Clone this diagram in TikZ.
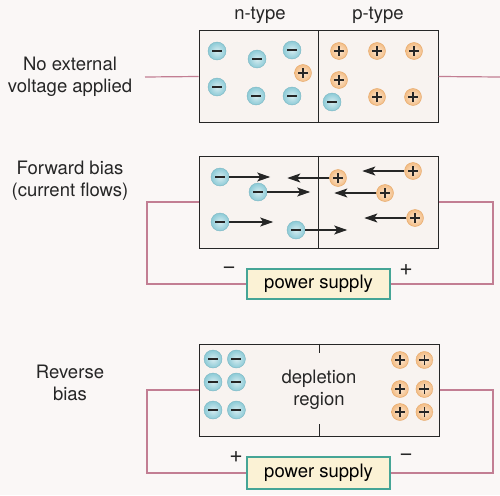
\documentclass[tikz,border=0pt]{standalone}
\usepackage{fontspec}
\setmainfont{TeX Gyre Heros}
\usepackage{xcolor}
\definecolor{cBack}{HTML}{FAF7F6}
\definecolor{cPanel}{HTML}{F8F3F0}
\definecolor{cLine}{HTML}{262626}
\definecolor{cWire}{HTML}{C27E93}
\definecolor{cElec}{HTML}{8CCAD6}
\definecolor{cElecEdge}{HTML}{7AB6C3}
\definecolor{cHole}{HTML}{F3BC84}
\definecolor{cHoleEdge}{HTML}{E6A766}
\definecolor{cSupply}{HTML}{FBF2D5}
\definecolor{cSupplyEdge}{HTML}{45A596}
\usepackage{tikz}
\usetikzlibrary{positioning,arrows.meta,backgrounds}
\tikzset{
  junction/.style={draw=cLine,line width=1pt,fill=cPanel,inner sep=0pt,
    minimum width=239pt,minimum height=91pt},
  supply/.style={draw=cSupplyEdge,line width=1.2pt,fill=cSupply,inner sep=0pt,
    minimum width=143pt,minimum height=30pt,font=\fontsize{18.5}{22}\selectfont},
  wire/.style={draw=cWire,line width=1.2pt},
  split/.style={draw=cLine,line width=0.8pt},
  side-label/.style={align=center,font=\fontsize{18.5}{22}\selectfont,text=cLine},
  pole/.style={font=\fontsize{23}{23}\selectfont,text=cLine,inner sep=0pt},
  sign/.style={line width=2pt,draw=cLine},
  elec/.style={circle,minimum size=18pt,inner sep=0pt,draw=cElecEdge,line width=0.4pt,
    inner color=cElec!35!white,outer color=cElec,
    path picture={\draw[sign] ([xshift=-5pt]path picture bounding box.center)
      -- ([xshift=5pt]path picture bounding box.center);}},
  hole/.style={circle,minimum size=17pt,inner sep=0pt,draw=cHoleEdge,line width=0.4pt,
    inner color=cHole!35!white,outer color=cHole,
    path picture={\draw[sign,line width=1.7pt] ([xshift=-5pt]path picture bounding box.center)
      -- ([xshift=5pt]path picture bounding box.center)
      ([yshift=-5pt]path picture bounding box.center)
      -- ([yshift=5pt]path picture bounding box.center);}},
  drift/.style={-{Stealth[length=13pt,width=9pt,inset=3pt]},line width=1.1pt,draw=cLine},
}

\begin{document}
\begin{tikzpicture}[x=1pt,y=-1pt]
  \fill[cBack] (0,0) rectangle (500,495);
  \useasboundingbox (0,0) rectangle (500,495);

  % no external voltage
  \node[side-label] (lbl1) at (70,77) {No external\\voltage applied};
  \node[side-label] (ntype) at (260,15) {n-type};
  \node[side-label] (ptype) at (378,15) {p-type};
  \coordinate (wl1) at (145,77);
  \coordinate (wr1) at (500,77);
  \node[junction] (jn1) at (318.5,76.5) {};
  \draw[split] (jn1.north) -- (jn1.south);
  \draw[wire] (wl1) -- (jn1.west);
  \draw[wire] (jn1.east) -- (wr1);
  \foreach \n/\x/\y in {1/217/51, 2/257/59, 3/292/50, 4/217/87, 5/256/96, 6/292/96, 7/332/102}
    \node[elec] (a-e\n) at (\x,\y) {};
  \foreach \n/\x/\y in {1/303/73, 2/339/51, 3/377/51, 4/414/51, 5/339/80, 6/377/97, 7/413/97}
    \node[hole] (a-h\n) at (\x,\y) {};

  % forward bias
  \node[side-label] (lbl2) at (70,181) {Forward bias\\(current flows)};
  \node[junction,minimum height=92pt] (jn2) at (318.5,202) {};
  \draw[split] (jn2.north) -- (jn2.south);
  \node[supply] (ps2) at (318.5,284) {power supply};
  \coordinate (cl2) at (147,284);
  \coordinate (cr2) at (493,284);
  \draw[wire] (jn2.west) -| (cl2) -- (ps2.west);
  \draw[wire] (jn2.east) -| (cr2) -- (ps2.east);
  \node[pole] (neg2) at (229,270) {−};
  \node[pole] (pos2) at (406,270) {+};
  \foreach \n/\x/\y/\len in {1/220/177/41, 2/258/192/43, 3/220/222/44, 4/296/230/42} {
    \node[elec] (b-e\n) at (\x,\y) {};
    \draw[drift] (b-e\n.east) -- ++(\len,0);
  }
  \foreach \n/\x/\y/\len in {1/338/178/42, 2/413/171/42, 3/385/193/42, 4/415/218/42} {
    \node[hole] (b-h\n) at (\x,\y) {};
    \draw[drift] (b-h\n.west) -- ++(-\len,0);
  }

  % reverse bias
  \node[side-label] (lbl3) at (70,383) {Reverse\\bias};
  \node[junction,minimum width=240pt,minimum height=92pt] (jn3) at (319,390) {};
  \draw[split] (jn3.north) -- ++(0,9);
  \draw[split] (jn3.south) -- ++(0,-13);
  \node[side-label] (depl) at (319,390) {depletion\\region};
  \node[supply,minimum height=32pt] (ps3) at (318.5,473) {power supply};
  \coordinate (cl3) at (147,473);
  \coordinate (cr3) at (493,473);
  \draw[wire] (jn3.west) -| (cl3) -- (ps3.west);
  \draw[wire] (jn3.east) -| (cr3) -- (ps3.east);
  \node[pole] (pos3) at (236,457) {+};
  \node[pole] (neg3) at (406,457) {−};
  \foreach \n/\y in {1/359, 2/382, 3/410} {
    \node[elec] (c-e\n) at (213,\y) {};
    \node[elec,right=5pt of c-e\n] (c-f\n) {};
  }
  \foreach \n/\y in {1/360, 2/389, 3/412} {
    \node[hole] (c-h\n) at (400,\y) {};
    \node[hole,right=7pt of c-h\n] (c-g\n) {};
  }
\end{tikzpicture}
\end{document}
